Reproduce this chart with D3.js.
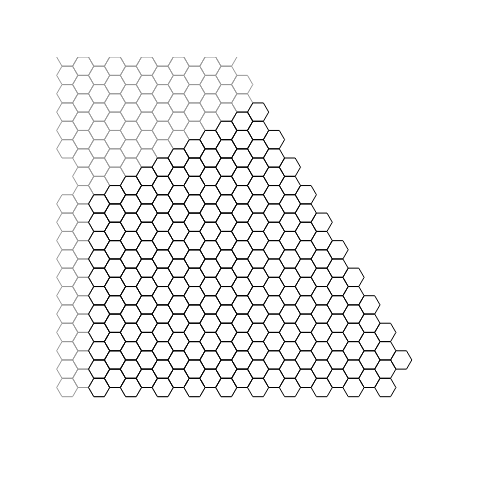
<!DOCTYPE html>
<html>
<head>
<meta charset="utf-8">
<script src="https://cdn.jsdelivr.net/npm/d3@7"></script>
<style>
  html, body { margin: 0; padding: 0; background: #fff; }
  svg { display: block; }
</style>
</head>
<body>
<script>
// Hexagon lattice runs: column index and half-row index (m) range
const grayCols    = [0, 0, 1, 2, 3, 4, 5, 6, 7, 8, 9, 10, 11];
const grayBottom  = [0, 26, 1, 0, 1, 0, 1, 0, 1, 0, 1, 0, 1];
const grayTop     = [20, 36, 35, 36, 35, 36, 35, 36, 35, 36, 35, 36, 33];

const blackCols   = [2, 3, 4, 5, 6, 7, 8, 9, 10, 11, 12, 13, 14, 15, 16, 17, 18, 19, 20, 21];
const blackBottom = [0, 1, 0, 1, 0, 1, 0, 1, 0, 1, 0, 1, 0, 1, 0, 1, 0, 1, 0, 3];
const blackTop    = [20, 21, 22, 23, 24, 25, 26, 27, 28, 29, 30, 27, 24, 21, 18, 15, 12, 9, 6, 3];

const width = 500, height = 500;
const R = 10.6;

const x = d3.scaleLinear().domain([0, 21]).range([67.3, 67.3 + 21 * 1.5 * R]);
const y = d3.scaleLinear().domain([0, 36]).range([387.5, 387.5 - 36 * R * Math.sqrt(3) / 2]);

function cells(cols, bottoms, tops) {
  const out = [];
  cols.forEach((c, i) => {
    for (let m = bottoms[i]; m <= tops[i]; m += 2) out.push({c, m});
  });
  return out;
}

const h = R * Math.sqrt(3) / 2;
const hexPts = [[R, 0], [R / 2, h], [-R / 2, h], [-R, 0], [-R / 2, -h], [R / 2, -h]];
const hexPath = d3.line().curve(d3.curveLinearClosed)(hexPts);

const svg = d3.select("body").append("svg")
  .attr("width", width).attr("height", height);

svg.append("defs").append("clipPath").attr("id", "clip")
  .append("rect").attr("x", 56).attr("y", y(36)).attr("width", 400).attr("height", 400);

svg.append("g").attr("clip-path", "url(#clip)")
  .selectAll("path").data(cells(grayCols, grayBottom, grayTop)).join("path")
  .attr("d", hexPath)
  .attr("transform", d => `translate(${x(d.c)},${y(d.m)})`)
  .attr("fill", "none")
  .attr("stroke", "#999")
  .attr("stroke-width", 1);

svg.append("g")
  .selectAll("path").data(cells(blackCols, blackBottom, blackTop)).join("path")
  .attr("d", hexPath)
  .attr("transform", d => `translate(${x(d.c)},${y(d.m)})`)
  .attr("fill", "none")
  .attr("stroke", "#000")
  .attr("stroke-width", 1);
</script>
</body>
</html>
